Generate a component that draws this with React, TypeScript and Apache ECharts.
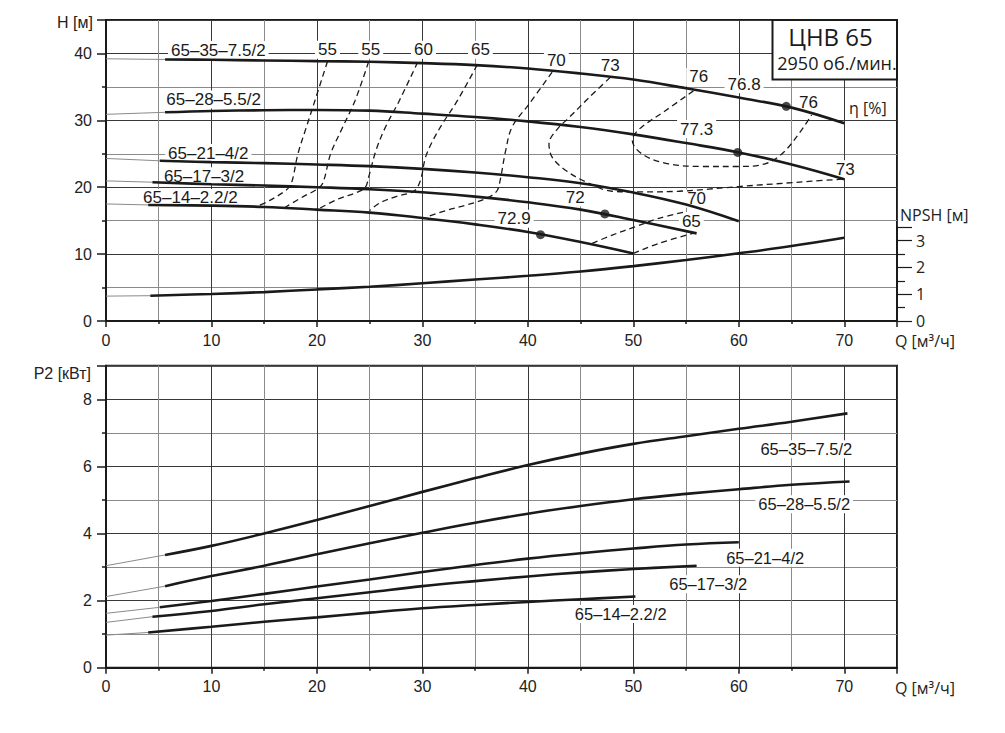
import React, { useEffect, useRef } from "react";
import * as echarts from "echarts";

// ---------- DATA ----------
const pumpNames = ["65–35–7.5/2", "65–28–5.5/2", "65–21–4/2", "65–17–3/2", "65–14–2.2/2"];

// H(Q) – thin start at Q=0, then thick working range
const headStart = [[0, 39.2], [0, 30.9], [0, 24.3], [0, 20.95], [0, 17.5]];
const headCurve1 = [[5.6, 39.1], [10, 39.05], [15, 38.95], [20, 38.85], [25, 38.75], [30, 38.55], [35, 38.25], [40, 37.75], [45, 37.0], [50, 36.1], [55, 34.8], [60, 33.4], [65, 31.9], [70, 29.55]];
const headCurve2 = [[5.6, 31.2], [10, 31.4], [15, 31.5], [20, 31.55], [25, 31.45], [30, 31.0], [35, 30.5], [40, 29.85], [45, 29.0], [50, 27.9], [55, 26.6], [60, 25.2], [65, 23.4], [70, 21.2]];
const headCurve3 = [[5.1, 23.95], [10, 23.75], [15, 23.6], [20, 23.4], [25, 23.15], [30, 22.75], [35, 22.2], [40, 21.5], [45, 20.6], [50, 19.2], [55, 17.4], [60, 14.9]];
const headCurve4 = [[4.4, 20.75], [10, 20.45], [15, 20.25], [20, 20.0], [25, 19.7], [30, 19.25], [35, 18.6], [40, 17.75], [45, 16.65], [50, 15.1], [56, 13.1]];
const headCurve5 = [[4, 17.35], [10, 17.25], [15, 17.05], [20, 16.65], [25, 16.2], [30, 15.4], [35, 14.45], [40, 13.3], [45, 11.8], [50, 10.1]];
const headCurves = [headCurve1, headCurve2, headCurve3, headCurve4, headCurve5];

// Best efficiency points
const bepPoints = [[64.5, 32.1], [59.9, 25.2], [47.3, 16.0], [41.2, 12.9]];

// Iso-efficiency lines (Q, H)
const iso55a = [[21.0, 38.8], [19.8, 32.9], [19.0, 29.0], [18.2, 25.0], [17.6, 20.7], [17.1, 19.6], [15.5, 18.0], [14.4, 17.2]];
const iso55b = [[24.9, 38.75], [23.6, 32.9], [22.45, 29.0], [21.3, 25.0], [20.55, 20.6], [19.9, 19.6], [18.7, 18.6], [17.0, 17.0]];
const iso60 = [[29.55, 38.7], [27.8, 32.9], [26.5, 29.0], [25.6, 25.5], [24.9, 21.5], [24.6, 20.0], [23.9, 19.3], [22.1, 18.3], [20.2, 16.8]];
const iso65 = [[35.2, 38.3], [33.3, 32.9], [31.9, 29.5], [31.0, 27.0], [30.3, 24.5], [29.9, 21.5], [29.55, 20.05], [29.1, 19.3], [27.5, 18.6], [25.9, 17.6], [25.0, 16.5]];
const iso70 = [[42.3, 37.2], [40.1, 32.4], [38.5, 29.0], [37.9, 25.5], [37.3, 20.5], [37.0, 19.3], [36.0, 18.3], [34.1, 17.3], [32.2, 16.5], [30.5, 15.6]];
const iso73 = [[47.8, 36.4], [45.8, 33.4], [43.9, 30.4], [42.8, 28.7], [42.0, 26.5], [42.3, 24.5], [43.6, 22.5], [45.5, 20.8], [48.0, 19.4], [50.5, 19.3], [54.3, 19.4], [60.0, 20.1], [66.9, 20.9], [69.8, 21.2]];
const iso76 = [[55.7, 34.4], [53.0, 31.4], [50.5, 28.6], [49.9, 27.0], [50.8, 25.0], [53.0, 23.6], [56.5, 23.1], [60.0, 23.1], [62.5, 23.5], [64.1, 25.0], [65.7, 28.0], [66.9, 30.8]];
const iso70low = [[46.1, 11.6], [48.0, 12.85], [50.2, 14.1], [52.4, 15.35], [54.9, 16.3]];
const iso65low = [[50.0, 10.1], [52.4, 11.6], [55.9, 13.2]];
const isoLines = [iso55a, iso55b, iso60, iso65, iso70, iso73, iso76, iso70low, iso65low];

// Labels in H chart
const headLabelPos = [[10.65, 40.5], [10.2, 33.1], [9.7, 25.1], [9.3, 21.65], [8.0, 18.4]];
const etaLabelText = ["55", "55", "60", "65", "70", "73", "76", "76.8", "76", "77.3", "73", "70", "65", "72", "72.9"];
const etaLabelPos = [
  [21.0, 40.55], [25.1, 40.55], [30.1, 40.55], [35.5, 40.55],
  [42.7, 38.9], [47.8, 38.2], [56.2, 36.5], [60.5, 35.4],
  [66.6, 32.6], [56.0, 28.7], [70.1, 22.7], [56.0, 18.3],
  [55.5, 14.95], [44.5, 18.5], [38.7, 15.3],
];

// NPSH(Q)
const npshStart = [[0, 0.93], [4.2, 0.945]];
const npshCurve = [[4.2, 0.945], [10, 1.01], [15, 1.08], [20, 1.18], [25, 1.28], [30, 1.41], [35, 1.55], [40, 1.69], [45, 1.85], [50, 2.05], [55, 2.28], [60, 2.53], [65, 2.8], [70, 3.11]];

// P2(Q)
const powerStart = [[0, 3.04], [0, 2.12], [0, 1.62], [0, 1.35], [0, 0.97]];
const powerCurve1 = [[5.6, 3.36], [10, 3.63], [15, 4.0], [20, 4.4], [25, 4.82], [30, 5.24], [35, 5.65], [40, 6.04], [45, 6.38], [50, 6.67], [55, 6.9], [60, 7.12], [65, 7.33], [70.3, 7.58]];
const powerCurve2 = [[5.6, 2.43], [10, 2.73], [15, 3.04], [20, 3.38], [25, 3.71], [30, 4.02], [35, 4.32], [40, 4.59], [45, 4.82], [50, 5.02], [55, 5.18], [60, 5.32], [65, 5.45], [70.5, 5.55]];
const powerCurve3 = [[5.1, 1.8], [10, 1.99], [15, 2.2], [20, 2.42], [25, 2.63], [30, 2.85], [35, 3.06], [40, 3.25], [45, 3.41], [50, 3.55], [55, 3.67], [60, 3.74]];
const powerCurve4 = [[4.4, 1.52], [10, 1.69], [15, 1.89], [20, 2.07], [25, 2.25], [30, 2.43], [35, 2.58], [40, 2.72], [45, 2.84], [50, 2.94], [56, 3.04]];
const powerCurve5 = [[4, 1.05], [10, 1.22], [15, 1.37], [20, 1.5], [25, 1.64], [30, 1.77], [35, 1.87], [40, 1.96], [45, 2.04], [50.2, 2.12]];
const powerCurves = [powerCurve1, powerCurve2, powerCurve3, powerCurve4, powerCurve5];
const powerLabelPos = [[66.4, 6.51], [66.2, 4.87], [62.5, 3.28], [57.1, 2.49], [48.8, 1.6]];

// ---------- STYLE ----------
const SANS = "'Liberation Sans', Arial, sans-serif";
const MYRIAD = "'Open Sans', 'Noto Sans', sans-serif";
const INK = "#1a1a1a";
const MAJOR = "#383838";
const MINOR = "#8a8a8a";

function xAxisCfg(gridIndex: number, show: boolean) {
  return {
    type: "value",
    gridIndex,
    min: 0,
    max: 75,
    interval: 10,
    show,
    axisLine: { show: true, onZero: false, lineStyle: { color: INK, width: 2 } },
    axisTick: { show: true, inside: false, length: 6, lineStyle: { color: INK, width: 1.5 } },
    minorTick: { show: true, splitNumber: 2, length: 3, lineStyle: { color: INK, width: 1.5 } },
    splitLine: { show: true, lineStyle: { color: MAJOR, width: 1 } },
    minorSplitLine: { show: true, lineStyle: { color: MINOR, width: 1 } },
    axisLabel: {
      show: true, margin: 11, fontSize: 16, fontFamily: SANS, color: "#222",
      formatter: (v: number) => (v % 10 === 0 ? String(v) : ""),
    },
  };
}

function lineSeries(data: number[][], xi: number, yi: number, width: number, color: string, dashed = false, smooth: number = 0.4) {
  return {
    type: "line",
    xAxisIndex: xi,
    yAxisIndex: yi,
    data,
    smooth,
    showSymbol: false,
    symbol: "none",
    silent: true,
    z: 3,
    lineStyle: { width, color, type: dashed ? [6, 4] : "solid", cap: "butt" },
  };
}

function labelSeries(texts: string[], positions: number[][], xi: number, yi: number, fontSize: number) {
  return {
    type: "custom",
    xAxisIndex: xi,
    yAxisIndex: yi,
    silent: true,
    clip: false,
    z: 2,
    data: positions,
    renderItem: (params: any, api: any) => {
      const p = api.coord([api.value(0), api.value(1)]);
      return {
        type: "text",
        x: p[0],
        y: p[1],
        style: {
          text: texts[params.dataIndex],
          fontSize,
          fontFamily: SANS,
          fill: INK,
          align: "center",
          verticalAlign: "middle",
          backgroundColor: "#ffffff",
          padding: [1, 3, 0, 3],
        },
      };
    },
  };
}

export default function App() {
  const ref = useRef<HTMLDivElement>(null);

  useEffect(() => {
    if (!ref.current) return;
    const chart = echarts.init(ref.current, null, { renderer: "svg" });

    const series: any[] = [];
    headCurves.forEach((c, i) => {
      series.push(lineSeries([headStart[i], c[0]], 0, 0, 1, "#8a8a8a", false, 0));
      series.push(lineSeries(c, 0, 0, 2.6, INK));
    });
    isoLines.forEach((c) => series.push(lineSeries(c, 0, 0, 1.3, INK, true, 0.35)));
    series.push({
      type: "scatter", xAxisIndex: 0, yAxisIndex: 0, data: bepPoints, symbolSize: 9, silent: true, z: 4,
      itemStyle: { color: INK },
    });
    series.push(labelSeries(pumpNames, headLabelPos, 0, 0, 17));
    series.push(labelSeries(etaLabelText, etaLabelPos, 0, 0, 17));
    series.push(lineSeries(npshStart, 1, 1, 1, "#8a8a8a", false, 0));
    series.push(lineSeries(npshCurve, 1, 1, 2.6, INK));
    powerCurves.forEach((c, i) => {
      series.push(lineSeries([powerStart[i], c[0]], 2, 2, 1, "#8a8a8a", false, 0));
      series.push(lineSeries(c, 2, 2, 2.6, INK));
    });
    series.push(labelSeries(pumpNames, powerLabelPos, 2, 2, 16.5));

    const gridBase = { left: 106, width: 791, outerBoundsMode: "none", containLabel: false };

    chart.setOption({
      animation: false,
      backgroundColor: "#ffffff",
      grid: [
        { ...gridBase, top: 20, height: 301, show: true, borderColor: INK, borderWidth: 2, backgroundColor: "transparent" },
        { ...gridBase, top: 321 - 93.66, height: 93.66, show: false },
        { ...gridBase, top: 365.7, height: 302, show: true, borderColor: INK, borderWidth: 2, backgroundColor: "transparent" },
      ],
      xAxis: [xAxisCfg(0, true), { ...xAxisCfg(1, false) }, xAxisCfg(2, true)],
      yAxis: [
        {
          type: "value", gridIndex: 0, min: 0, max: 45, interval: 10,
          axisLine: { show: true, onZero: false, lineStyle: { color: INK, width: 2 } },
          axisTick: { show: true, length: 9, lineStyle: { color: INK, width: 1.5 } },
          minorTick: { show: true, splitNumber: 2, length: 4, lineStyle: { color: INK, width: 1.5 } },
          splitLine: { show: true, lineStyle: { color: MAJOR, width: 1 } },
          minorSplitLine: { show: true, lineStyle: { color: MINOR, width: 1 } },
          axisLabel: {
            margin: 14, fontSize: 16, fontFamily: SANS, color: "#222",
            formatter: (v: number) => (v % 10 === 0 ? String(v) : ""),
          },
        },
        {
          type: "value", gridIndex: 1, position: "right", min: 0, max: 3.5, interval: 1,
          axisLine: { show: true, onZero: false, lineStyle: { color: INK, width: 2 } },
          axisTick: { show: true, length: 15, lineStyle: { color: INK, width: 1.2 } },
          minorTick: { show: true, splitNumber: 2, length: 8, lineStyle: { color: INK, width: 1.2 } },
          splitLine: { show: false },
          minorSplitLine: { show: false },
          axisLabel: {
            margin: 19, fontSize: 16, fontFamily: MYRIAD, color: "#222",
            formatter: (v: number) => (Number.isInteger(v) ? String(v) : ""),
          },
        },
        {
          type: "value", gridIndex: 2, min: 0, max: 9, interval: 2,
          axisLine: { show: true, onZero: false, lineStyle: { color: INK, width: 2 } },
          axisTick: { show: true, length: 9, lineStyle: { color: INK, width: 1.5 } },
          minorTick: { show: true, splitNumber: 2, length: 4, lineStyle: { color: INK, width: 1.5 } },
          splitLine: { show: true, lineStyle: { color: MAJOR, width: 1 } },
          minorSplitLine: { show: true, lineStyle: { color: MINOR, width: 1 } },
          axisLabel: {
            margin: 14, fontSize: 16, fontFamily: SANS, color: "#222",
            formatter: (v: number) => (v % 2 === 0 ? String(v) : ""),
          },
        },
      ],
      graphic: [
        { type: "text", x: 93, y: 22, z: 100, style: { text: "H [м]", fontSize: 16, fontFamily: SANS, fill: "#222", align: "right", verticalAlign: "middle" } },
        { type: "text", x: 91, y: 373, z: 100, style: { text: "P2 [кВт]", fontSize: 16, fontFamily: SANS, fill: "#222", align: "right", verticalAlign: "middle" } },
        { type: "text", x: 900, y: 215, z: 100, style: { text: "NPSH [м]", fontSize: 16, fontFamily: MYRIAD, fill: "#222", align: "left", verticalAlign: "middle" } },
        { type: "text", x: 849, y: 108, z: 100, style: { text: "η [%]", fontSize: 16, fontFamily: MYRIAD, fill: "#222", align: "left", verticalAlign: "middle" } },
        { type: "text", x: 895, y: 341, z: 100, style: { text: "Q [м³/ч]", fontSize: 16, fontFamily: MYRIAD, fill: "#222", align: "left", verticalAlign: "middle" } },
        { type: "text", x: 895, y: 688, z: 100, style: { text: "Q [м³/ч]", fontSize: 16, fontFamily: MYRIAD, fill: "#222", align: "left", verticalAlign: "middle" } },
        { type: "rect", z: 100, shape: { x: 772.5, y: 20, width: 124.5, height: 59.5 }, style: { fill: "#ffffff", stroke: INK, lineWidth: 2 } },
        { type: "text", x: 830.5, y: 36, z: 101, style: { text: "ЦНВ 65", fontSize: 24, fontFamily: MYRIAD, fill: "#1a1a1a", align: "center", verticalAlign: "middle" } },
        { type: "text", x: 837, y: 63, z: 101, style: { text: "2950 об./мин.", fontSize: 18, fontFamily: MYRIAD, fill: "#1a1a1a", align: "center", verticalAlign: "middle" } },
      ],
      series,
    });

    return () => chart.dispose();
  }, []);

  return <div ref={ref} style={{ position: "absolute", left: 0, top: 0, width: 1005, height: 733 }} />;
}
